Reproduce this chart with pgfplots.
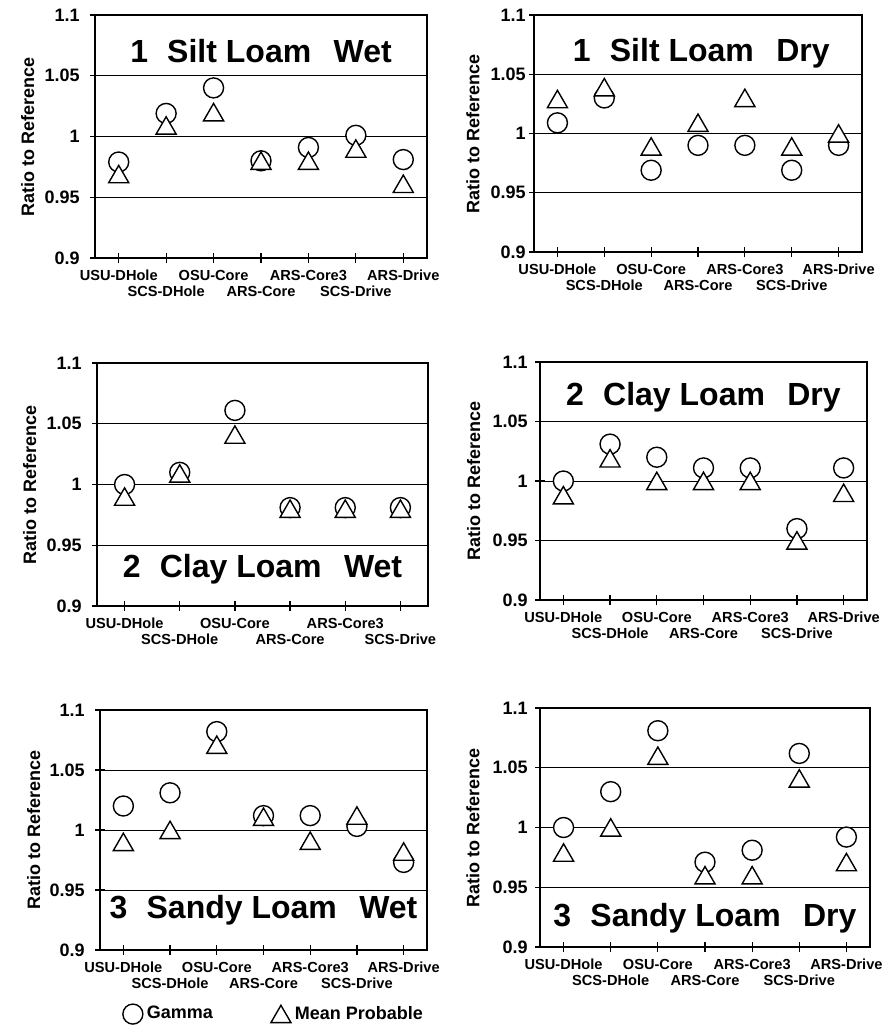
\documentclass[border=0pt]{standalone}
\usepackage{fontspec}
\setmainfont{Liberation Sans}
\usepackage{pgfplots}
\usepackage{pgfplotstable}
\pgfplotsset{compat=1.18}

% Silt Loam Wet
\pgfplotstableread{
x g m
0 0.979 0.969
1 1.019 1.009
2 1.040 1.020
3 0.980 0.980
4 0.991 0.980
5 1.001 0.990
6 0.981 0.961
}\tA
% Silt Loam Dry
\pgfplotstableread{
x g m
0 1.009 1.029
1 1.030 1.039
2 0.969 0.989
3 0.990 1.009
4 0.990 1.030
5 0.969 0.989
6 0.990 1.000
}\tB
% Clay Loam Wet
\pgfplotstableread{
x g m
0 1.000 0.990
1 1.010 1.009
2 1.061 1.041
3 0.981 0.980
4 0.981 0.980
5 0.981 0.980
}\tC
% Clay Loam Dry
\pgfplotstableread{
x g m
0 1.000 0.988
1 1.031 1.019
2 1.020 1.000
3 1.011 1.000
4 1.011 1.000
5 0.960 0.950
6 1.011 0.990
}\tD
% Sandy Loam Wet
\pgfplotstableread{
x g m
0 1.020 0.990
1 1.031 1.000
2 1.082 1.071
3 1.012 1.011
4 1.012 0.991
5 1.003 1.012
6 0.973 0.982
}\tE
% Sandy Loam Dry
\pgfplotstableread{
x g m
0 1.000 0.979
1 1.030 1.000
2 1.081 1.060
3 0.971 0.960
4 0.981 0.960
5 1.062 1.041
6 0.992 0.971
}\tF

\pgfplotsset{
  panel/.style={
    scale only axis, anchor=south west, clip=false,
    xmin=-0.5, xmax=6.5, ymin=0.9, ymax=1.1,
    ytick={0.9,0.95,1,1.05,1.1},
    yticklabels={0.9,0.95,1,1.05,1.1},
    xtick={0,2,4,6},
    xticklabels={USU-DHole,OSU-Core,ARS-Core3,ARS-Drive},
    extra x ticks={1,3,5},
    extra x tick labels={SCS-DHole,ARS-Core,SCS-Drive},
    extra x tick style={xticklabel style={yshift=-8pt}},
    tick pos=left, tick align=center, major tick length=5pt,
    tick style={black, line width=0.6pt},
    ymajorgrids, grid style={black, line width=0.5pt},
    axis line style={line width=0.8pt},
    yticklabel style={font=\bfseries\fontsize{9}{11}\selectfont, inner sep=1.5pt},
    xticklabel style={font=\bfseries\fontsize{7.3}{8}\selectfont, inner sep=1pt, yshift=-2.5pt},
    ylabel={Ratio to Reference},
    ylabel style={font=\bfseries\fontsize{9}{11}\selectfont, at={(axis description cs:-0.203,0.5)}, anchor=center, rotate=0},
  },
  gam/.style={only marks, mark=*, mark size=5pt, mark options={fill=white, draw=black, line width=0.7pt}},
  mp/.style={only marks, mark=triangle*, mark size=5.8pt, mark options={fill=white, draw=black, line width=0.7pt, yshift=-1.4pt}},
}
\tikzset{ttl/.style={font=\bfseries\fontsize{16}{19}\selectfont}}

\begin{document}
\begin{tikzpicture}
\useasboundingbox (0,0) rectangle (443pt,-514pt);

% Panel 1
\begin{axis}[panel, at={(47.5pt,-129pt)}, width=166pt, height=121.5pt,
  yticklabel style={xshift=-3.5pt}]
\addplot[gam] table[x=x,y=g] {\tA};
\addplot[mp] table[x=x,y=m] {\tA};
\node[ttl] at (rel axis cs:0.5,0.85) {1\hspace{0.6em}Silt Loam\hspace{0.7em}Wet};
\end{axis}

% Panel 2
\begin{axis}[panel, at={(267pt,-126pt)}, width=164pt, height=118.5pt,
  ylabel style={at={(axis description cs:-0.186,0.5)}}]
\addplot[gam] table[x=x,y=g] {\tB};
\addplot[mp] table[x=x,y=m] {\tB};
\node[ttl] at (rel axis cs:0.51,0.84) {1\hspace{0.6em}Silt Loam\hspace{0.7em}Dry};
\end{axis}

% Panel 3
\begin{axis}[panel, at={(48.5pt,-303pt)}, width=165.5pt, height=121.5pt,
  yticklabel style={xshift=-3.5pt},
  xmax=5.5, xtick={0,2,4}, xticklabels={USU-DHole,OSU-Core,ARS-Core3}]
\addplot[gam] table[x=x,y=g] {\tC};
\addplot[mp] table[x=x,y=m] {\tC};
\node[ttl] at (rel axis cs:0.5,0.15) {2\hspace{0.6em}Clay Loam\hspace{0.7em}Wet};
\end{axis}

% Panel 4
\begin{axis}[panel, at={(270pt,-300pt)}, width=163.5pt, height=119pt,
  yticklabel style={xshift=-2pt}]
\addplot[gam] table[x=x,y=g] {\tD};
\addplot[mp] table[x=x,y=m] {\tD};
\node[ttl] at (rel axis cs:0.5,0.85) {2\hspace{0.6em}Clay Loam\hspace{0.7em}Dry};
\end{axis}

% Panel 5
\begin{axis}[panel, at={(50pt,-475pt)}, width=163.5pt, height=120pt,
  yticklabel style={xshift=-3.5pt},
  legend style={at={(axis description cs:0.535,-0.267)}, anchor=center, draw=none, fill=none,
    legend columns=2, font=\bfseries\fontsize{9}{11}\selectfont,
    /tikz/every even column/.append style={column sep=27pt}},
  legend cell align=left]
\addplot[gam] table[x=x,y=g] {\tE};
\addlegendentry{Gamma}
\addplot[mp] table[x=x,y=m] {\tE};
\addlegendentry{Mean Probable}
\node[ttl] at (rel axis cs:0.5,0.167) {3\hspace{0.6em}Sandy Loam\hspace{0.7em}Wet};
\end{axis}

% Panel 6
\begin{axis}[panel, at={(270pt,-473.5pt)}, width=165pt, height=119.5pt,
  yticklabel style={xshift=-2pt}]
\addplot[gam] table[x=x,y=g] {\tF};
\addplot[mp] table[x=x,y=m] {\tF};
\node[ttl] at (rel axis cs:0.5,0.12) {3\hspace{0.6em}Sandy Loam\hspace{0.7em}Dry};
\end{axis}
\end{tikzpicture}
\end{document}
